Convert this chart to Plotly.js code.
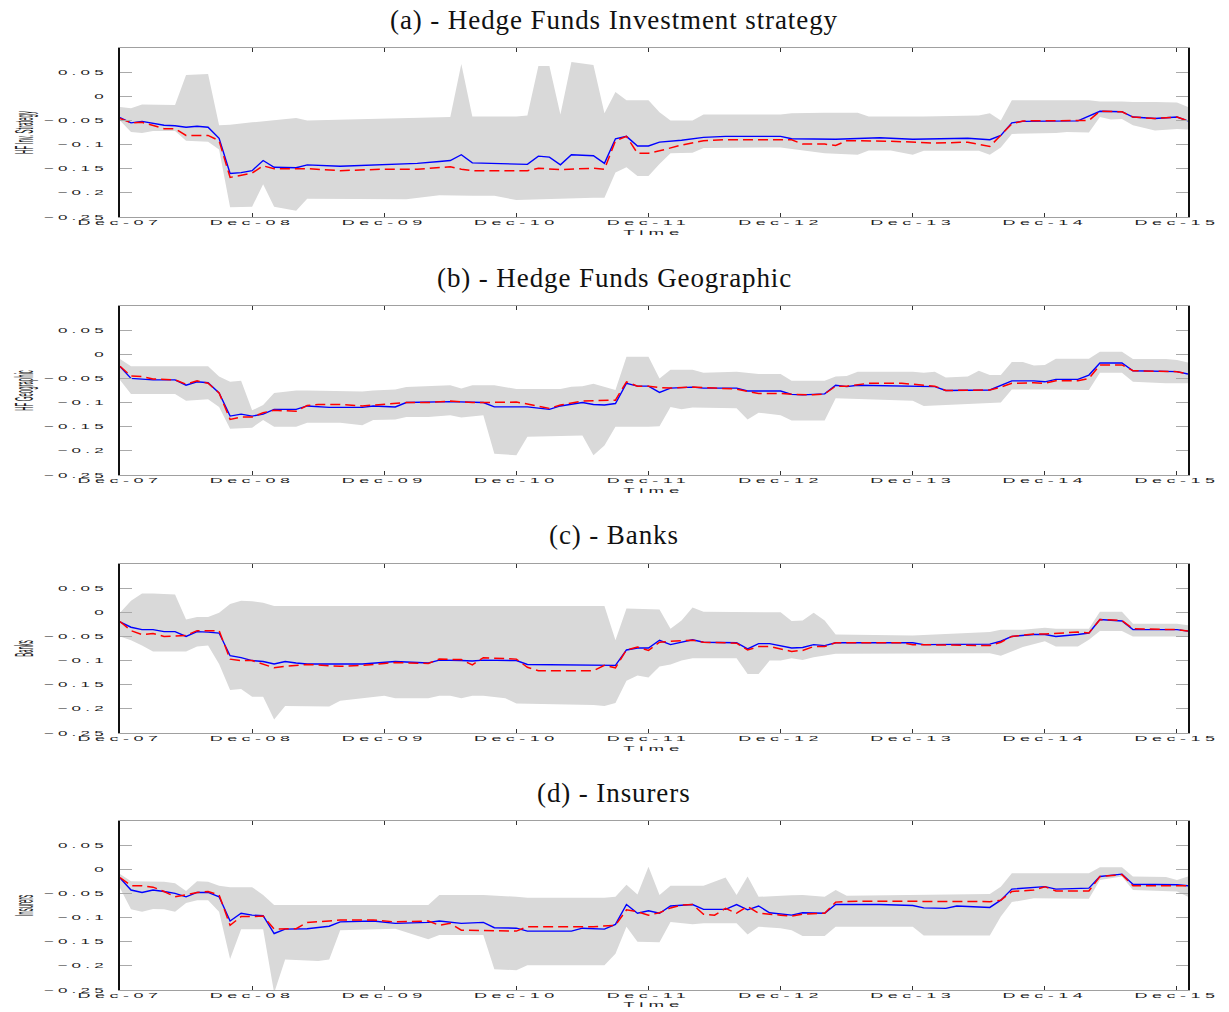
<!DOCTYPE html>
<html><head><meta charset="utf-8">
<script src="https://cdn.plot.ly/plotly-3.0.1.min.js"></script>
<style>
html,body{margin:0;padding:0;background:#fff;}
#chart{width:1229px;height:1012px;}
.xtick text,.x2tick text,.x3tick text,.x4tick text,.ytick text,.y2tick text,.y3tick text,.y4tick text{letter-spacing:2.5px;}
.xtitle,.x2title,.x3title,.x4title{letter-spacing:3px;}
.annotation-text{letter-spacing:0.9px;}
</style></head><body><div id="chart"></div>
<script>
// month index: 0 = Dec-07, 12 = Dec-08, ...
const tickMonths = [0,12,24,36,48,60,72,84,96];
const tickLabels = ['Dec-07','Dec-08','Dec-09','Dec-10','Dec-11','Dec-12','Dec-13','Dec-14','Dec-15'];
const yTickVals = [-0.25,-0.2,-0.15,-0.1,-0.05,0,0.05];
const yTickText = ['\u22120.25','\u22120.2','\u22120.15','\u22120.1','\u22120.05','0','0.05'];
const panelTitles = ['(a) - Hedge Funds Investment strategy','(b) - Hedge Funds Geographic','(c) - Banks','(d) - Insurers'];
const yLabels = ['HF Inv. Strategy','HF Geographic','Banks','Insurers'];
const xLabel = 'Time';

// (a) Hedge Funds Investment strategy
const aUpM = [0,1,2,5,6,8,9,10,12,14,16,17,26,29,30,31,32,36,37,38,39,40,41,42,43,44,45,46,48,49,50,52,53,60,61,64,67,68,72,73,78,79,80,81,88,89,91,92,94,96,97];
const aUp = [-0.022,-0.025,-0.017,-0.018,0.044,0.046,-0.060,-0.059,-0.054,-0.050,-0.045,-0.050,-0.046,-0.045,-0.043,0.067,-0.042,-0.042,-0.040,0.0625,0.0625,-0.0375,0.071,0.068,0.065,-0.035,0.009,-0.008,-0.008,-0.033,-0.050,-0.050,-0.0375,-0.0375,-0.035,-0.034,-0.034,-0.042,-0.042,-0.042,-0.040,-0.035,-0.050,-0.008,-0.008,-0.011,-0.011,-0.012,-0.012,-0.013,-0.022];
const aLoM = [0,1,2,3,5,6,8,9,10,12,13,14,16,17,26,29,32,34,36,43,44,45,46,47,48,49,50,52,53,60,61,64,67,68,70,72,73,78,79,80,81,85,86,88,89,90,91,92,94,96,97];
const aLo = [-0.050,-0.074,-0.076,-0.072,-0.072,-0.092,-0.094,-0.110,-0.230,-0.229,-0.182,-0.229,-0.237,-0.212,-0.213,-0.205,-0.206,-0.206,-0.215,-0.210,-0.210,-0.158,-0.147,-0.165,-0.165,-0.140,-0.118,-0.117,-0.107,-0.106,-0.108,-0.118,-0.121,-0.1125,-0.1125,-0.121,-0.113,-0.113,-0.121,-0.106,-0.078,-0.076,-0.074,-0.075,-0.043,-0.048,-0.047,-0.060,-0.071,-0.068,-0.069];
const aBlueM = [0,1,2,3,4,5,6,7,8,9,10,11,12,13,14,16,17,20,24,27,29,30,31,32,37,38,39,40,41,43,44,45,46,47,48,49,51,53,55,60,61,65,69,72,77,79,80,81,82,87,89,91,92,94,96,97];
const aBlue = [-0.044,-0.055,-0.052,-0.056,-0.060,-0.061,-0.064,-0.062,-0.064,-0.087,-0.160,-0.158,-0.154,-0.133,-0.147,-0.148,-0.142,-0.145,-0.142,-0.139,-0.135,-0.133,-0.121,-0.138,-0.141,-0.124,-0.126,-0.142,-0.121,-0.123,-0.139,-0.088,-0.083,-0.103,-0.103,-0.095,-0.091,-0.085,-0.083,-0.083,-0.088,-0.089,-0.086,-0.089,-0.087,-0.090,-0.081,-0.055,-0.052,-0.051,-0.031,-0.032,-0.043,-0.046,-0.043,-0.051];
const aRedM = [0,1,2,4,5,6,8,9,10,12,13,14,17,20,24,27,30,31,32,37,38,40,43,44,45,46,47,48,49,51,53,55,61,62,64,65,66,70,74,77,79,81,82,88,89,91,92,94,96,97];
const aRed = [-0.046,-0.055,-0.054,-0.067,-0.067,-0.081,-0.081,-0.092,-0.168,-0.159,-0.144,-0.150,-0.150,-0.154,-0.151,-0.151,-0.146,-0.151,-0.154,-0.154,-0.149,-0.152,-0.149,-0.151,-0.092,-0.083,-0.118,-0.118,-0.113,-0.101,-0.092,-0.090,-0.090,-0.099,-0.099,-0.102,-0.092,-0.093,-0.097,-0.095,-0.104,-0.057,-0.051,-0.050,-0.031,-0.032,-0.043,-0.046,-0.043,-0.051];

// (b) Hedge Funds Geographic
const bUpM = [0,1,8,9,10,11,12,13,14,16,17,22,23,25,26,30,31,32,33,34,36,40,41,42,43,44,45,46,48,49,50,52,53,56,57,58,60,61,64,65,66,67,72,73,74,75,77,78,79,80,81,82,83,84,85,88,89,91,92,95,96,97];
const bUp = [-0.010,-0.025,-0.025,-0.046,-0.057,-0.055,-0.116,-0.105,-0.080,-0.075,-0.075,-0.077,-0.075,-0.073,-0.068,-0.064,-0.071,-0.064,-0.064,-0.064,-0.072,-0.072,-0.067,-0.066,-0.061,-0.068,-0.074,-0.005,-0.005,-0.050,-0.032,-0.032,-0.038,-0.036,-0.039,-0.041,-0.041,-0.055,-0.055,-0.046,-0.045,-0.036,-0.036,-0.038,-0.036,-0.048,-0.046,-0.034,-0.043,-0.043,-0.016,-0.016,-0.023,-0.022,-0.009,-0.009,0.005,0.005,-0.010,-0.010,-0.012,-0.017];
const bLoM = [0,1,5,6,8,9,10,11,12,13,14,16,17,20,22,23,25,26,28,30,31,33,34,36,37,42,43,44,45,48,49,50,51,52,56,57,58,60,61,64,65,72,73,80,81,84,88,89,91,92,95,97];
const bLo = [-0.053,-0.082,-0.082,-0.096,-0.093,-0.109,-0.154,-0.153,-0.152,-0.136,-0.150,-0.150,-0.142,-0.142,-0.147,-0.136,-0.135,-0.130,-0.130,-0.126,-0.131,-0.126,-0.206,-0.209,-0.171,-0.168,-0.209,-0.189,-0.150,-0.150,-0.149,-0.109,-0.114,-0.110,-0.112,-0.135,-0.121,-0.126,-0.137,-0.137,-0.091,-0.096,-0.107,-0.100,-0.073,-0.073,-0.074,-0.038,-0.038,-0.057,-0.060,-0.060];
const bBlueM = [0,1,3,5,6,7,8,9,10,11,12,13,14,16,17,19,22,23,25,26,30,32,33,34,37,39,40,42,43,44,45,46,47,48,49,50,52,53,56,57,60,61,62,64,65,66,67,74,75,79,81,83,84,85,87,88,89,91,92,96,97];
const bBlue = [-0.025,-0.050,-0.053,-0.053,-0.064,-0.057,-0.059,-0.080,-0.128,-0.124,-0.128,-0.124,-0.114,-0.114,-0.107,-0.110,-0.110,-0.107,-0.109,-0.100,-0.098,-0.100,-0.100,-0.109,-0.109,-0.114,-0.107,-0.100,-0.104,-0.105,-0.102,-0.060,-0.066,-0.066,-0.079,-0.070,-0.068,-0.070,-0.070,-0.076,-0.076,-0.083,-0.084,-0.082,-0.064,-0.067,-0.064,-0.067,-0.075,-0.074,-0.055,-0.055,-0.057,-0.052,-0.052,-0.043,-0.018,-0.018,-0.034,-0.036,-0.041];
const bRedM = [0,1,2,3,5,6,7,8,9,10,11,12,13,14,16,17,18,20,22,24,26,28,30,32,34,36,37,39,40,42,43,45,46,47,48,49,50,52,54,56,57,58,60,61,63,64,65,66,68,71,73,74,75,79,80,81,83,84,85,87,88,89,91,92,96,97];
const bRed = [-0.025,-0.045,-0.046,-0.051,-0.053,-0.062,-0.055,-0.060,-0.080,-0.135,-0.130,-0.130,-0.121,-0.116,-0.118,-0.106,-0.104,-0.104,-0.107,-0.104,-0.100,-0.100,-0.097,-0.100,-0.100,-0.099,-0.103,-0.112,-0.105,-0.097,-0.096,-0.095,-0.057,-0.066,-0.066,-0.069,-0.070,-0.068,-0.070,-0.072,-0.077,-0.081,-0.081,-0.083,-0.084,-0.082,-0.066,-0.066,-0.060,-0.060,-0.064,-0.066,-0.075,-0.074,-0.068,-0.060,-0.059,-0.060,-0.055,-0.055,-0.050,-0.022,-0.022,-0.034,-0.036,-0.041];

// (c) Banks
const cUpM = [0,1,2,3,5,6,7,8,9,10,11,12,13,14,44,45,46,48,49,50,51,52,53,60,61,62,63,64,65,72,77,79,80,82,84,85,88,89,91,92,96,97];
const cUp = [-0.001,0.024,0.039,0.039,0.037,-0.015,-0.010,-0.010,-0.001,0.017,0.024,0.023,0.020,0.013,0.013,-0.058,0.008,0.006,0.006,-0.034,-0.017,0.010,0.001,0.000,-0.018,-0.017,-0.001,-0.017,-0.046,-0.048,-0.043,-0.041,-0.036,-0.036,-0.032,-0.034,-0.034,0.001,0.001,-0.024,-0.024,-0.027];
const cLoM = [0,1,2,3,5,6,7,8,9,10,11,12,13,14,15,19,20,22,24,25,28,29,30,31,32,33,34,35,36,37,43,44,45,46,47,48,49,50,51,52,56,57,58,59,60,61,62,63,65,79,80,82,84,85,87,88,89,91,92,96,97];
const cLo = [-0.050,-0.058,-0.069,-0.081,-0.081,-0.081,-0.071,-0.069,-0.107,-0.161,-0.159,-0.175,-0.175,-0.222,-0.194,-0.195,-0.183,-0.178,-0.173,-0.178,-0.178,-0.173,-0.173,-0.178,-0.173,-0.173,-0.176,-0.178,-0.189,-0.190,-0.192,-0.194,-0.188,-0.142,-0.131,-0.135,-0.1125,-0.108,-0.100,-0.095,-0.095,-0.128,-0.128,-0.100,-0.100,-0.095,-0.099,-0.093,-0.086,-0.085,-0.090,-0.072,-0.060,-0.071,-0.071,-0.057,-0.039,-0.039,-0.050,-0.050,-0.051];
const cBlueM = [0,1,2,3,4,5,6,7,8,9,10,11,12,13,14,15,16,17,22,24,25,28,29,31,32,33,35,36,37,44,45,46,47,48,49,50,52,53,56,57,58,59,61,62,63,64,65,72,73,79,80,81,83,84,85,87,88,89,91,92,96,97];
const cBlue = [-0.020,-0.031,-0.036,-0.036,-0.040,-0.040,-0.050,-0.040,-0.041,-0.043,-0.090,-0.094,-0.100,-0.102,-0.107,-0.102,-0.105,-0.107,-0.107,-0.104,-0.102,-0.105,-0.099,-0.100,-0.101,-0.099,-0.099,-0.100,-0.108,-0.110,-0.110,-0.078,-0.074,-0.074,-0.058,-0.067,-0.057,-0.062,-0.063,-0.076,-0.065,-0.065,-0.074,-0.073,-0.067,-0.069,-0.063,-0.063,-0.067,-0.066,-0.060,-0.050,-0.046,-0.046,-0.050,-0.046,-0.043,-0.015,-0.018,-0.036,-0.036,-0.039];
const cRedM = [0,1,2,3,4,5,6,7,9,10,11,12,13,14,15,17,20,22,24,25,28,29,31,32,33,36,37,38,43,44,45,46,47,48,49,50,52,53,56,57,58,59,61,62,63,64,65,71,72,79,80,81,83,84,87,88,89,91,92,96,97];
const cRed = [-0.019,-0.038,-0.046,-0.044,-0.050,-0.049,-0.048,-0.038,-0.038,-0.097,-0.100,-0.100,-0.108,-0.115,-0.112,-0.108,-0.112,-0.110,-0.106,-0.104,-0.106,-0.097,-0.098,-0.109,-0.094,-0.097,-0.114,-0.121,-0.121,-0.110,-0.115,-0.078,-0.072,-0.079,-0.062,-0.060,-0.058,-0.062,-0.064,-0.078,-0.071,-0.071,-0.081,-0.079,-0.071,-0.071,-0.063,-0.063,-0.067,-0.069,-0.062,-0.050,-0.045,-0.045,-0.041,-0.043,-0.015,-0.017,-0.034,-0.036,-0.039];

// (d) Insurers
const dUpM = [0,1,4,5,6,7,8,9,10,12,13,14,25,28,29,33,36,37,44,45,46,47,48,49,50,53,55,56,57,58,61,62,64,65,66,72,79,80,81,88,89,91,92,95,96,97];
const dUp = [-0.010,-0.025,-0.026,-0.029,-0.045,-0.025,-0.026,-0.034,-0.037,-0.037,-0.053,-0.074,-0.074,-0.074,-0.053,-0.053,-0.057,-0.059,-0.059,-0.057,-0.032,-0.052,0.005,-0.053,-0.034,-0.034,-0.017,-0.053,-0.015,-0.057,-0.054,-0.053,-0.057,-0.043,-0.055,-0.053,-0.051,-0.036,-0.008,-0.008,0.004,0.004,-0.015,-0.016,-0.022,-0.015];
const dLoM = [0,1,2,3,4,5,6,7,8,9,10,11,13,14,15,18,19,20,25,28,29,33,34,36,37,44,45,46,47,49,50,52,53,56,57,58,60,61,62,64,65,72,73,79,80,81,83,88,89,91,92,95,96,97];
const dLo = [-0.039,-0.083,-0.088,-0.082,-0.083,-0.088,-0.070,-0.064,-0.064,-0.088,-0.186,-0.124,-0.124,-0.256,-0.187,-0.190,-0.187,-0.126,-0.123,-0.145,-0.136,-0.136,-0.207,-0.209,-0.199,-0.199,-0.175,-0.119,-0.150,-0.151,-0.109,-0.114,-0.112,-0.112,-0.135,-0.119,-0.122,-0.126,-0.138,-0.138,-0.119,-0.119,-0.137,-0.137,-0.098,-0.068,-0.060,-0.061,-0.022,-0.015,-0.043,-0.045,-0.046,-0.057];
const dBlueM = [0,1,2,3,4,5,6,7,8,9,10,11,12,13,14,15,17,19,20,23,25,28,29,31,33,34,36,37,41,42,44,45,46,47,48,49,50,52,53,55,56,57,58,59,61,62,64,65,69,72,73,75,76,79,80,81,84,85,88,89,91,92,96,97];
const dBlue = [-0.018,-0.043,-0.048,-0.043,-0.046,-0.050,-0.057,-0.048,-0.048,-0.057,-0.107,-0.091,-0.095,-0.096,-0.133,-0.124,-0.123,-0.118,-0.109,-0.107,-0.112,-0.110,-0.107,-0.112,-0.110,-0.121,-0.122,-0.128,-0.128,-0.122,-0.124,-0.114,-0.073,-0.091,-0.086,-0.091,-0.076,-0.073,-0.083,-0.083,-0.073,-0.084,-0.076,-0.090,-0.095,-0.090,-0.091,-0.073,-0.073,-0.075,-0.080,-0.081,-0.076,-0.079,-0.064,-0.041,-0.036,-0.041,-0.039,-0.015,-0.010,-0.031,-0.032,-0.034];
const dRedM = [0,1,2,3,4,5,6,7,8,9,10,11,12,13,14,16,17,18,19,20,23,25,28,29,30,31,34,36,37,43,45,46,47,48,49,50,51,52,53,54,55,56,57,58,60,61,62,64,65,67,79,80,81,83,84,85,88,89,91,92,96,97];
const dRed = [-0.017,-0.034,-0.034,-0.037,-0.046,-0.057,-0.053,-0.048,-0.046,-0.053,-0.116,-0.098,-0.098,-0.097,-0.124,-0.123,-0.110,-0.109,-0.107,-0.105,-0.105,-0.109,-0.107,-0.116,-0.112,-0.126,-0.127,-0.128,-0.119,-0.119,-0.116,-0.084,-0.088,-0.095,-0.090,-0.080,-0.074,-0.073,-0.093,-0.095,-0.081,-0.091,-0.077,-0.091,-0.095,-0.097,-0.093,-0.091,-0.068,-0.066,-0.067,-0.064,-0.046,-0.043,-0.036,-0.045,-0.045,-0.015,-0.011,-0.034,-0.034,-0.034];

const panels = [
  {upM:aUpM, up:aUp, loM:aLoM, lo:aLo, blueM:aBlueM, blue:aBlue, redM:aRedM, red:aRed},
  {upM:bUpM, up:bUp, loM:bLoM, lo:bLo, blueM:bBlueM, blue:bBlue, redM:bRedM, red:bRed},
  {upM:cUpM, up:cUp, loM:cLoM, lo:cLo, blueM:cBlueM, blue:cBlue, redM:cRedM, red:cRed},
  {upM:dUpM, up:dUp, loM:dLoM, lo:dLo, blueM:dBlueM, blue:dBlue, redM:dRedM, red:dRed}
];

// layout geometry (pixels in a 1229x1012 page)
const W = 1229, H = 1012;
const plotTop = [48, 306, 564, 821];
const plotBot = [217, 475, 733, 990];
const titleY = [20, 278, 535, 793];
const timeY = [232, 490, 748, 1004];

const traces = [];
const layout = {
  width: W, height: H,
  margin: {l:120, r:41, t:0, b:0, pad:0},
  paper_bgcolor: '#ffffff', plot_bgcolor: '#ffffff',
  showlegend: false,
  annotations: [],
  font: {family: 'Liberation Sans, Arial, sans-serif', color: '#222'}
};

panels.forEach((p, i) => {
  const n = i === 0 ? '' : String(i + 1);
  const xa = 'x' + n, ya = 'y' + n;
  traces.push({
    x: p.upM.concat(p.loM.slice().reverse()),
    y: p.up.concat(p.lo.slice().reverse()),
    xaxis: xa, yaxis: ya, type: 'scatter', mode: 'lines',
    fill: 'toself', fillcolor: '#d9d9d9', line: {width: 0, color: '#d9d9d9'},
    hoverinfo: 'skip'
  });
  traces.push({
    x: p.blueM, y: p.blue, xaxis: xa, yaxis: ya, type: 'scatter', mode: 'lines',
    line: {color: '#0000ff', width: 1.4}
  });
  traces.push({
    x: p.redM, y: p.red, xaxis: xa, yaxis: ya, type: 'scatter', mode: 'lines',
    line: {color: '#ff0000', width: 1.5, dash: '10px,5px'}
  });
  const dom = [(H - plotBot[i]) / H, (H - plotTop[i]) / H];
  layout['xaxis' + n] = {
    domain: [0, 1], anchor: ya, range: [0, 97],
    tickvals: tickMonths, ticktext: tickLabels,
    ticks: 'inside', ticklen: 4, tickwidth: 1, tickcolor: '#333',
    showline: true, linecolor: '#a0a0a0', linewidth: 1, mirror: 'ticks',
    showgrid: false, zeroline: false,
    tickfont: {family: 'Liberation Sans, Arial, sans-serif', size: 10, color: '#222'},
    title: {text: xLabel, font: {family: 'Liberation Sans, Arial, sans-serif', size: 11, color: '#222'}, standoff: 2}
  };
  layout['yaxis' + n] = {
    domain: dom, anchor: xa, range: [-0.25, 0.1],
    tickvals: yTickVals, ticktext: yTickText,
    ticks: 'inside', ticklen: 12, tickwidth: 1, tickcolor: '#aaaaaa',
    showline: true, linecolor: '#111111', linewidth: 2, mirror: 'ticks',
    showgrid: false, zeroline: false,
    tickfont: {family: 'Liberation Sans, Arial, sans-serif', size: 10, color: '#222'},
    title: {text: yLabels[i], font: {family: 'Liberation Sans, Arial, sans-serif', size: 12, color: '#222'}}
  };
  layout.annotations.push({
    text: panelTitles[i], xref: 'paper', yref: 'paper',
    x: (614 - 120) / (W - 161), y: (H - titleY[i]) / H,
    xanchor: 'center', yanchor: 'middle', showarrow: false,
    font: {family: 'Liberation Serif, Times New Roman, serif', size: 27, color: '#111'}
  });
});

// stretch a text element in page space about its anchor, optionally moving it
function xf(el, sx, sy, mode, tx, ty) {
  const r = el.getBoundingClientRect();
  const ax = mode === 'right' ? r.right : (r.left + r.right) / 2;
  const ay = (r.top + r.bottom) / 2;
  const inv = el.parentNode.getScreenCTM().inverse();
  const p = new DOMPoint(ax, ay).matrixTransform(inv);
  const q = new DOMPoint(tx == null ? ax : tx, ty == null ? ay : ty).matrixTransform(inv);
  const orig = el.getAttribute('transform') || '';
  el.setAttribute('transform', 'translate(' + q.x + ',' + q.y + ') scale(' + sx + ',' + sy + ') translate(' + (-p.x) + ',' + (-p.y) + ') ' + orig);
}

Plotly.newPlot('chart', traces, layout, {staticPlot: true, displayModeBar: false}).then(gd => {
  ['', '2', '3', '4'].forEach((n, i) => {
    gd.querySelectorAll('g.x' + n + 'tick text').forEach(t => xf(t, 1.8, 0.75, 'center', null, plotBot[i] + 5));
    gd.querySelectorAll('g.y' + n + 'tick text').forEach(t => xf(t, 1.7, 0.72, 'right', 108, null));
    const tx = gd.querySelector('text.x' + n + 'title');
    if (tx) xf(tx, 1.7, 0.7, 'center', 654, timeY[i]);
    const ty = gd.querySelector('text.y' + n + 'title');
    if (ty) xf(ty, 2.1, 0.5, 'center', 25, (plotTop[i] + plotBot[i]) / 2);
  });
});
</script></body></html>
